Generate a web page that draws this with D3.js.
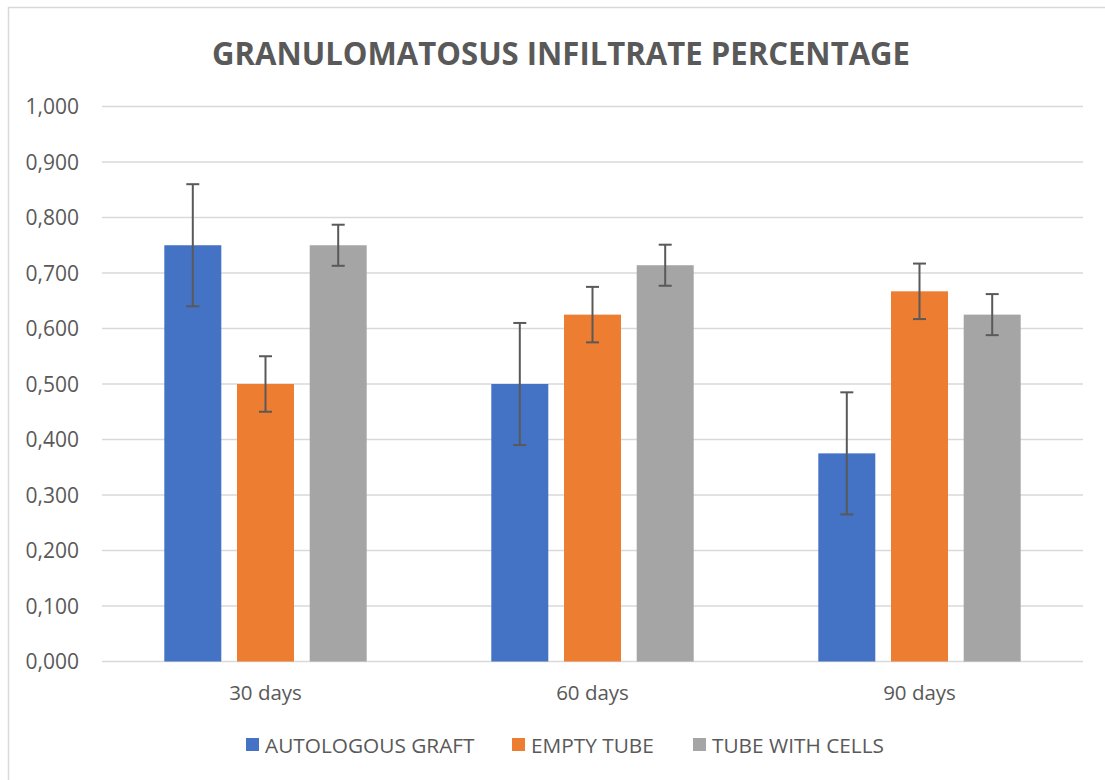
<!DOCTYPE html>
<html>
<head>
<meta charset="utf-8">
<script src="https://cdn.jsdelivr.net/npm/d3@7"></script>
<style>
  html, body { margin: 0; padding: 0; background: #ffffff; }
  svg { display: block; font-family: "Open Sans", "Liberation Sans", sans-serif; }
</style>
</head>
<body>
<svg id="chart" width="1105" height="780"></svg>
<script>
// Categories and series
const categories = ["30 days", "60 days", "90 days"];
const seriesNames = ["AUTOLOGOUS GRAFT", "EMPTY TUBE", "TUBE WITH CELLS"];
const seriesColors = ["#4472c4", "#ed7d31", "#a5a5a5"];

// Mean values per series (one entry per category)
const autologousGraft = [0.750, 0.500, 0.375];
const emptyTube = [0.500, 0.625, 0.667];
const tubeWithCells = [0.750, 0.714, 0.625];

// Error amounts (± around the mean)
const autologousGraftErr = [0.110, 0.110, 0.110];
const emptyTubeErr = [0.050, 0.050, 0.050];
const tubeWithCellsErr = [0.037, 0.037, 0.037];

const yTicks = [0, 0.1, 0.2, 0.3, 0.4, 0.5, 0.6, 0.7, 0.8, 0.9, 1.0];
const titleText = "GRANULOMATOSUS INFILTRATE PERCENTAGE";

const values = [autologousGraft, emptyTube, tubeWithCells];
const errors = [autologousGraftErr, emptyTubeErr, tubeWithCellsErr];

const svg = d3.select("#chart");
const W = 1105, H = 780;
const textColor = "#595959";

// Chart frame
svg.append("rect")
  .attr("x", 8.5).attr("y", 7.5)
  .attr("width", W + 10).attr("height", H + 10)
  .attr("fill", "#ffffff")
  .attr("stroke", "#d9d9d9").attr("stroke-width", 1.5);

const plot = { left: 102, right: 1083, top: 106.5, bottom: 661.5 };

const x0 = d3.scaleBand()
  .domain(categories)
  .range([plot.left, plot.right])
  .paddingInner(0).paddingOuter(0);

const x1 = d3.scaleBand()
  .domain(seriesNames)
  .range([0, x0.bandwidth()])
  .paddingInner(0.216)
  .paddingOuter(0.857);

const y = d3.scaleLinear()
  .domain([0, 1])
  .range([plot.bottom, plot.top]);

// Title
svg.append("text")
  .attr("x", 561).attr("y", 65)
  .attr("text-anchor", "middle")
  .attr("font-size", 33).attr("font-weight", 700)
  .attr("fill", textColor)
  .attr("textLength", 698)
  .attr("lengthAdjust", "spacingAndGlyphs")
  .text(titleText);

// Horizontal gridlines
svg.append("g")
  .selectAll("line")
  .data(yTicks)
  .join("line")
  .attr("x1", plot.left).attr("x2", plot.right)
  .attr("y1", d => y(d)).attr("y2", d => y(d))
  .attr("stroke", "#d9d9d9").attr("stroke-width", 1.5);

// Y axis labels
const fmt = d => d3.format(".3f")(d).replace(".", ",");
const yAxis = d3.axisLeft(y).tickValues(yTicks).tickFormat(fmt).tickSize(0).tickPadding(0);
const yG = svg.append("g")
  .attr("transform", `translate(79,0)`)
  .call(yAxis);
yG.select(".domain").remove();
yG.selectAll("text")
  .attr("font-size", 21)
  .attr("font-family", "'Open Sans', sans-serif")
  .attr("fill", textColor)
  .attr("dy", "0.35em");

// X axis labels
const xAxis = d3.axisBottom(x0).tickSize(0).tickPadding(0);
const xG = svg.append("g")
  .attr("transform", `translate(0,${plot.bottom})`)
  .call(xAxis);
xG.select(".domain").remove();
xG.selectAll("text")
  .attr("font-size", 20.5)
  .attr("font-family", "'Open Sans', sans-serif")
  .attr("fill", textColor)
  .attr("dy", null)
  .attr("y", 38.5);

// Bars
const groups = svg.append("g")
  .selectAll("g")
  .data(categories)
  .join("g")
  .attr("transform", d => `translate(${x0(d)},0)`);

groups.selectAll("rect")
  .data((c, ci) => seriesNames.map((s, si) => ({ s, si, v: values[si][ci], e: errors[si][ci] })))
  .join("rect")
  .attr("x", d => x1(d.s))
  .attr("width", x1.bandwidth())
  .attr("y", d => y(d.v))
  .attr("height", d => y(0) - y(d.v))
  .attr("fill", d => seriesColors[d.si]);

// Error bars
const errG = groups.selectAll("g.err")
  .data((c, ci) => seriesNames.map((s, si) => ({ s, si, v: values[si][ci], e: errors[si][ci] })))
  .join("g")
  .attr("class", "err")
  .attr("stroke", "#595959")
  .attr("stroke-width", 2);

const cx = d => x1(d.s) + x1.bandwidth() / 2;
errG.append("line")
  .attr("x1", cx).attr("x2", cx)
  .attr("y1", d => y(d.v - d.e)).attr("y2", d => y(d.v + d.e));
errG.append("line")
  .attr("x1", d => cx(d) - 6.5).attr("x2", d => cx(d) + 6.5)
  .attr("y1", d => y(d.v + d.e)).attr("y2", d => y(d.v + d.e));
errG.append("line")
  .attr("x1", d => cx(d) - 6.5).attr("x2", d => cx(d) + 6.5)
  .attr("y1", d => y(d.v - d.e)).attr("y2", d => y(d.v - d.e));

// Legend
const legendX = [246, 512, 693];
const legend = svg.append("g")
  .selectAll("g")
  .data(seriesNames)
  .join("g")
  .attr("transform", (d, i) => `translate(${legendX[i]},738)`);
legend.append("rect")
  .attr("width", 13).attr("height", 13)
  .attr("fill", (d, i) => seriesColors[i]);
legend.append("text")
  .attr("x", 19).attr("y", 14.5)
  .attr("font-size", 20.8)
  .attr("fill", textColor)
  .text(d => d);
</script>
</body>
</html>
